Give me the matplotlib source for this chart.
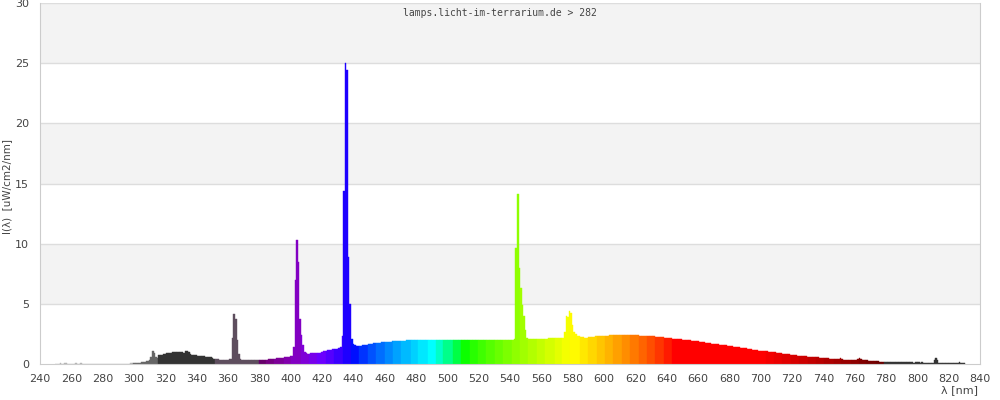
import numpy as np
import matplotlib
matplotlib.use('Agg')
import matplotlib.pyplot as plt

# spectrum, 1 nm steps starting at 250 nm
start_nm = 250
uv_vals = [
    0, 0, 0, 0.05, 0, 0, 0.05, 0.05, 0, 0,                      # 250
    0, 0, 0, 0.05, 0, 0, 0.05, 0, 0, 0,                         # 260
    0, 0, 0, 0, 0, 0, 0, 0, 0, 0,                               # 270
    0, 0, 0, 0, 0, 0, 0, 0, 0, 0,                               # 280
    0, 0, 0, 0, 0, 0, 0, 0, 0.08, 0.08,                         # 290
    0.08, 0.08, 0.08, 0.08, 0.1, 0.17, 0.17, 0.2, 0.22, 0.25,   # 300
    0.3, 0.6, 1.08, 0.9, 0.6, 0.47, 0.72, 0.74, 0.76, 0.8,      # 310
    0.83, 0.9, 0.94, 0.94, 0.95, 0.96, 1.0, 1.0, 1.0, 1.0,      # 320
    1.0, 0.96, 0.94, 1.08, 1.05, 0.97, 0.85, 0.78, 0.75, 0.75,  # 330
    0.74, 0.7, 0.66, 0.66, 0.65, 0.64, 0.6, 0.56, 0.55, 0.55,   # 340
    0.54, 0.45, 0.39, 0.39, 0.38, 0.37, 0.33, 0.33, 0.32, 0.32, # 350
    0.33, 0.42, 0.45, 2.2, 4.15, 3.7, 2.0, 0.8, 0.45, 0.34,     # 360
    0.33, 0.33, 0.32, 0.32, 0.33, 0.33, 0.33, 0.33, 0.33, 0.33, # 370
]
blue_vals = [
    0.33, 0.33, 0.33, 0.33, 0.33, 0.34, 0.38, 0.42, 0.42, 0.42, # 380
    0.45, 0.5, 0.5, 0.52, 0.52, 0.52, 0.58, 0.6, 0.6, 0.6,      # 390
    0.64, 0.66, 1.38, 7.0, 10.3, 8.5, 3.7, 2.4, 1.6, 1.0,       # 400
    0.89, 0.85, 0.83, 0.88, 0.89, 0.89, 0.9, 0.92, 0.94, 0.94,  # 410
    1.0, 1.05, 1.05, 1.1, 1.16, 1.16, 1.2, 1.22, 1.22, 1.25,    # 420
    1.27, 1.33, 1.38, 2.3, 14.4, 25.0, 24.4, 8.9, 5.0, 2.1,     # 430
    1.7, 1.58, 1.52, 1.52, 1.52, 1.52, 1.55, 1.58, 1.6, 1.62,   # 440
    1.66, 1.66, 1.68, 1.72, 1.74, 1.74, 1.76, 1.78, 1.8, 1.82,  # 450
    1.85, 1.85, 1.85, 1.86, 1.86, 1.87, 1.88, 1.88, 1.9, 1.9,   # 460
    1.91, 1.92, 1.93, 1.95, 1.96, 1.97, 1.98, 1.98, 1.99, 1.99, # 470
    2.0, 2.0, 2.01, 2.0, 2.0, 2.02, 2.0, 2.0, 2.0, 2.02,        # 480
    2.0, 2.0, 2.0, 2.0, 2.02, 2.0, 2.0, 2.0, 2.0, 2.0,          # 490
]
green_vals = [
    2.0, 2.0, 2.0, 2.0, 2.0, 2.0, 2.0, 2.0, 2.0, 2.0,           # 500
    2.0, 2.0, 2.0, 2.0, 2.0, 2.0, 2.0, 2.0, 2.0, 2.0,           # 510
    2.0, 2.0, 2.0, 2.0, 2.0, 2.0, 2.0, 2.0, 2.0, 2.0,           # 520
    2.0, 2.0, 2.0, 2.0, 2.0, 2.0, 2.0, 2.0, 2.0, 2.0,           # 530
    2.0, 2.0, 2.02, 2.1, 9.6, 14.1, 8.0, 6.3, 4.9, 4.0,         # 540
    2.8, 2.2, 2.08, 2.08, 2.08, 2.08, 2.08, 2.08, 2.08, 2.08,   # 550
    2.08, 2.08, 2.08, 2.08, 2.08, 2.15, 2.15, 2.15, 2.15, 2.15, # 560
    2.15, 2.15, 2.15, 2.15, 2.15, 2.7, 4.0, 3.9, 4.4, 4.2,      # 570
    3.2, 2.7, 2.5, 2.35, 2.3, 2.25, 2.22, 2.22, 2.2, 2.2,       # 580
    2.22, 2.22, 2.25, 2.25, 2.28, 2.3, 2.3, 2.3, 2.3, 2.32,     # 590
]
red_vals = [
    2.33, 2.33, 2.35, 2.35, 2.37, 2.38, 2.38, 2.42, 2.4, 2.4,   # 600
    2.4, 2.43, 2.41, 2.41, 2.41, 2.41, 2.41, 2.41, 2.41, 2.41,  # 610
    2.42, 2.4, 2.38, 2.36, 2.35, 2.33, 2.33, 2.33, 2.33, 2.33,  # 620
    2.33, 2.33, 2.3, 2.26, 2.24, 2.24, 2.24, 2.24, 2.22, 2.2,   # 630
    2.16, 2.16, 2.16, 2.14, 2.1, 2.05, 2.05, 2.05, 2.05, 2.04,  # 640
    2.03, 2.02, 2.0, 2.0, 1.98, 1.96, 1.95, 1.92, 1.9, 1.9,     # 650
    1.88, 1.85, 1.83, 1.82, 1.8, 1.77, 1.75, 1.74, 1.72, 1.7,   # 660
    1.68, 1.67, 1.66, 1.64, 1.62, 1.6, 1.6, 1.58, 1.55, 1.53,   # 670
    1.52, 1.5, 1.47, 1.44, 1.42, 1.4, 1.38, 1.36, 1.35, 1.34,   # 680
    1.33, 1.32, 1.28, 1.25, 1.22, 1.2, 1.18, 1.16, 1.13, 1.11,  # 690
]
nir_vals = [
    1.1, 1.08, 1.07, 1.05, 1.04, 1.02, 1.0, 1.0, 0.98, 0.96,    # 700
    0.94, 0.92, 0.9, 0.88, 0.86, 0.85, 0.84, 0.83, 0.8, 0.78,   # 710
    0.76, 0.75, 0.74, 0.72, 0.7, 0.68, 0.67, 0.66, 0.65, 0.63,  # 720
    0.61, 0.6, 0.59, 0.58, 0.58, 0.57, 0.56, 0.55, 0.53, 0.51,  # 730
    0.5, 0.49, 0.48, 0.46, 0.45, 0.44, 0.44, 0.44, 0.44, 0.43,  # 740
    0.42, 0.5, 0.38, 0.37, 0.36, 0.36, 0.36, 0.36, 0.36, 0.35,  # 750
    0.35, 0.35, 0.38, 0.5, 0.45, 0.34, 0.33, 0.33, 0.3, 0.27,   # 760
    0.25, 0.25, 0.25, 0.25, 0.24, 0.24, 0.2, 0.2, 0.16, 0.14,   # 770
    0.14, 0.14, 0.14, 0.14, 0.14, 0.14, 0.14, 0.14, 0.14, 0.14, # 780
    0.14, 0.14, 0.13, 0.13, 0.13, 0.13, 0.14, 0.14, 0.12, 0.14, # 790
    0.14, 0.2, 0.12, 0.16, 0.12, 0.12, 0.12, 0.12, 0.12, 0.12,  # 800
    0.12, 0.35, 0.47, 0.3, 0.1, 0.08, 0.08, 0.08, 0.08, 0.08,   # 810
    0.08, 0.08, 0.08, 0.08, 0.08, 0.08, 0.08, 0.15, 0.08, 0.08, # 820
    0.08,                                                       # 830
]

title = 'lamps.licht-im-terrarium.de > 282'
x_ticks = list(range(240, 841, 20))
y_ticks = [0, 5, 10, 15, 20, 25, 30]


def wl_color(w):
    """colour of a bar, UV/IR in greys, visible by wavelength"""
    if w < 299.5:
        return '#b4b4b4'
    if w < 315.5:
        return '#666666'
    if w < 351.5:
        return '#333333'
    if w < 379.5:
        return '#5e4e5e'
    if w > 778.5:
        return '#333333'
    k = np.floor((w - 379.2) / 5.4)
    c = 379.2 + (k + 0.5) * 5.4
    if c < 440:
        r, g, b = (440 - c) / 60, 0, 1
    elif c < 490:
        r, g, b = 0, (c - 440) / 50, 1
    elif c < 510:
        r, g, b = 0, 1, (510 - c) / 20
    elif c < 580:
        r, g, b = (c - 510) / 70, 1, 0
    elif c < 645:
        r, g, b = 1, (645 - c) / 65, 0
    else:
        r, g, b = 1, 0, 0
    if c < 420:
        f = 0.3 + 0.7 * (c - 380) / 40
    elif c > 700:
        f = 0.3 + 0.7 * (780 - c) / 80
    else:
        f = 1.0
    return tuple(min(1, max(0, v * f)) ** 0.8 for v in (r, g, b))


vals = np.array(uv_vals + blue_vals + green_vals + red_vals + nir_vals)
wl = start_nm + np.arange(len(vals))
colors = [wl_color(w) for w in wl]

fig = plt.figure(figsize=(10, 4), dpi=100)
ax = fig.add_axes([0.04, 0.09, 0.94, 0.9025])

# alternating bands
for lo in (5, 15, 25):
    ax.axhspan(lo, lo + 5, color='#f3f3f3', zorder=0, lw=0)
for yv in y_ticks[1:]:
    ax.axhline(yv, color='#dddddd', lw=1, zorder=1)

ax.bar(wl, vals, width=1.0, color=colors, edgecolor=colors, linewidth=0.3, zorder=2)

ax.set_xlim(240, 840)
ax.set_ylim(0, 30)
ax.set_xticks(x_ticks)
ax.set_yticks(y_ticks)
ax.tick_params(length=0, labelsize=8, colors='#444444')
ax.tick_params(axis='x', pad=7)
ax.tick_params(axis='y', pad=8)
for s in ('left', 'right', 'bottom'):
    ax.spines[s].set_color('#cccccc')
ax.spines['top'].set_visible(False)

fig.text(0.002, 0.535, 'I(λ)  [uW/cm2/nm]', rotation=90, ha='left', va='center',
         fontsize=7.5, color='#444444')
fig.text(0.978, 0.012, 'λ [nm]', ha='right', va='bottom', fontsize=8, color='#444444')
fig.text(0.5, 1 - 13 / 400, title, ha='center', va='center', fontsize=7,
         family='DejaVu Sans Mono', color='#444444')

fig.savefig('out.png', dpi=100)
